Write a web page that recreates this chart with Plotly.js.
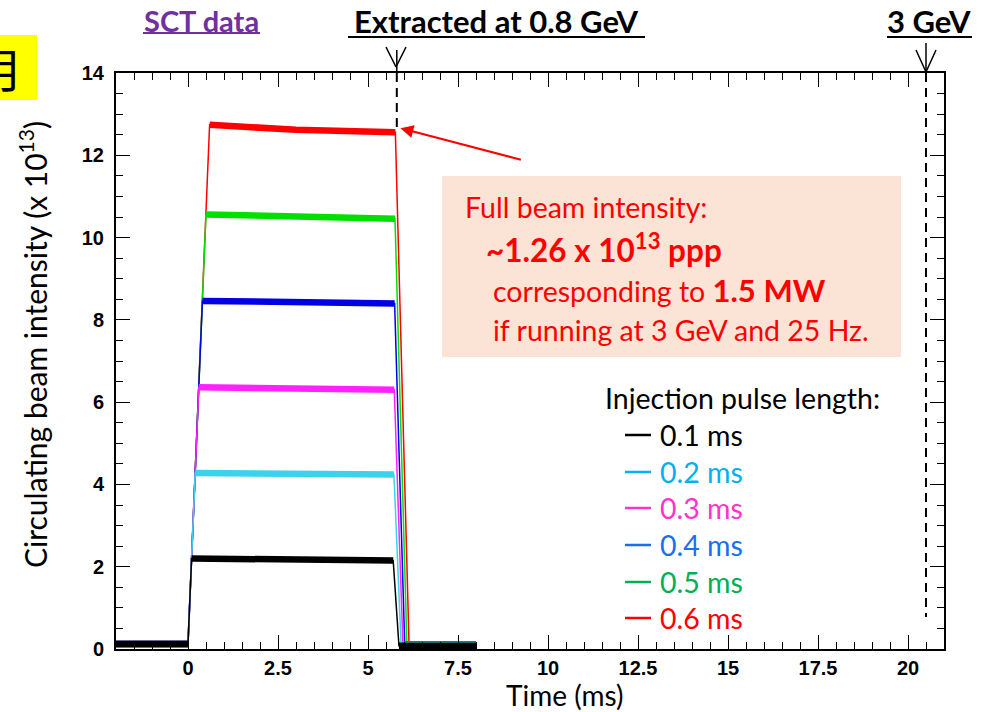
<!DOCTYPE html>
<html><head><meta charset="utf-8">
<script src="https://cdn.plot.ly/plotly-3.0.1.min.js"></script>
<style>html,body{margin:0;padding:0;background:#fff}</style>
</head><body><div id="chart" style="width:988px;height:712px"></div>
<script>
// ---- data ----
const pulseLabels   = ['0.1 ms', '0.2 ms', '0.3 ms', '0.4 ms', '0.5 ms', '0.6 ms'];
const injectionEnd  = [0.10, 0.20, 0.30, 0.40, 0.50, 0.60];      // ms, plateau reached
const plateauFirst  = [2.20, 4.28, 6.36, 8.46, 10.56, 12.74];    // x1e13
const plateauMid    = [2.18, 4.26, 6.33, 8.42, 10.50, 12.62];
const plateauLast   = [2.15, 4.24, 6.30, 8.40, 10.46, 12.56];
const extractStart  = [5.70, 5.72, 5.73, 5.74, 5.75, 5.76];      // ms
const extractEnd    = [5.86, 5.92, 5.97, 6.02, 6.08, 6.14];      // ms
const baselineBefore= [0.12, 0.12, 0.12, 0.12, 0.12, 0.12];
const baselineAfter = [0.08, 0.10, 0.10, 0.11, 0.11, 0.11];
const recordStart = -2.0, plateauMidTime = 3.0, recordEnd = 8.0;
const extractionTime = 5.8, threeGeVTime = 20.5;
const xTickVals = [0, 2.5, 5, 7.5, 10, 12.5, 15, 17.5, 20];
const xTickText = ['0', '2.5', '5', '7.5', '10', '12.5', '15', '17.5', '20'];

// ---- styles ----
const traceColors  = ['#000000', '#3cd2ec', '#ff22ff', '#0000e6', '#00e000', '#ff0000'];
const legendColors = ['#000000', '#00b0f0', '#ff33cc', '#1a6ff0', '#00b050', '#ff0000'];
const TXT = 'Lato, "Open Sans", sans-serif';
const REG = 28.5;

// pixel -> paper helpers (plot area 116..944 x 73..649)
const L = 116, R = 944, T = 73, B = 649;
const px = x => (x - L) / (R - L);
const py = y => (B - y) / (B - T);

const traces = [];
for (let i = 5; i >= 0; i--) {
  const xs = [recordStart, 0, injectionEnd[i], plateauMidTime, extractStart[i], extractEnd[i], recordEnd];
  const ys = [baselineBefore[i], baselineBefore[i], plateauFirst[i], plateauMid[i], plateauLast[i], baselineAfter[i], baselineAfter[i]];
  traces.push({x: xs, y: ys, type: 'scatter', mode: 'lines', name: pulseLabels[i],
    line: {color: traceColors[i], width: 1.5}, showlegend: false, hoverinfo: 'skip'});
  const bx = [recordStart, 0, null, injectionEnd[i], plateauMidTime, extractStart[i], null, extractEnd[i], recordEnd];
  const by = [baselineBefore[i], baselineBefore[i], null, plateauFirst[i], plateauMid[i], plateauLast[i], null, baselineAfter[i], baselineAfter[i]];
  traces.push({x: bx, y: by, type: 'scatter', mode: 'lines', name: pulseLabels[i] + ' band',
    line: {color: traceColors[i], width: 6.5}, connectgaps: false, showlegend: false, hoverinfo: 'skip'});
}

const shapes = [];
const annotations = [];
const txt = (x, y, text, size, color, anchor, extra) => annotations.push(Object.assign({
  xref: 'paper', yref: 'paper', x: px(x), y: py(y), text: text, showarrow: false,
  font: {family: TXT, size: size, color: color}, xanchor: anchor, yanchor: 'middle'}, extra || {}));
const seg = (x0, y0, x1, y1, color, width) => shapes.push({type: 'line', xref: 'paper', yref: 'paper',
  x0: px(x0), x1: px(x1), y0: py(y0), y1: py(y1), line: {color: color, width: width}});

// annotation box
shapes.push({type: 'rect', xref: 'paper', yref: 'paper', x0: px(442), x1: px(901), y0: py(357), y1: py(176),
  fillcolor: '#fbe4d6', line: {width: 0}, layer: 'below'});
// yellow box at left
shapes.push({type: 'rect', xref: 'paper', yref: 'paper', x0: px(-2), x1: px(37), y0: py(100), y1: py(35),
  fillcolor: '#ffff00', line: {width: 0}});
// dashed markers
shapes.push({type: 'line', xref: 'x', yref: 'paper', x0: extractionTime, x1: extractionTime, y0: py(73), y1: py(127),
  line: {color: '#000', width: 2, dash: '9px,6px'}});
shapes.push({type: 'line', xref: 'x', yref: 'paper', x0: threeGeVTime, x1: threeGeVTime, y0: py(73), y1: py(617),
  line: {color: '#000', width: 2, dash: '9px,6px'}});
// V markers + stems
shapes.push({type: 'line', xref: 'x', yref: 'paper', x0: extractionTime, x1: extractionTime, y0: py(50), y1: py(73), line: {color: '#000', width: 1.5}});
seg(386, 47, 396, 67, '#000', 1.5); seg(406, 47, 396, 67, '#000', 1.5);
shapes.push({type: 'line', xref: 'x', yref: 'paper', x0: threeGeVTime, x1: threeGeVTime, y0: py(43), y1: py(73), line: {color: '#000', width: 1.5}});
seg(916, 50, 926, 72, '#000', 1.5); seg(936, 50, 926, 72, '#000', 1.5);

// top labels with underline
txt(201, 20, '<b>SCT data</b>', 29, '#7030a0', 'center');
seg(143, 33, 260, 33, '#7030a0', 2);
txt(496, 21, '<b>Extracted at 0.8 GeV</b>', 31, '#000', 'center');
seg(348, 37, 645, 37, '#000', 2);
txt(929, 21, '<b>3 GeV</b>', 31, '#000', 'center');
seg(887, 37, 972, 37, '#000', 2);

// yellow box glyph (cut at the page edge, as in the reference)
annotations.push({xref: 'paper', yref: 'paper', x: px(25), y: py(67), text: '月', showarrow: false,
  font: {family: '"Noto Sans CJK SC"', size: 46, color: '#000'}, xanchor: 'right', yanchor: 'middle'});

// info box text
txt(463, 207, 'Full beam intensity:', REG, '#ff0000', 'left');
txt(484, 248, '<b>~1.26 x 10<sup>13</sup> ppp</b>', 31.5, '#ff0000', 'left');
txt(491, 290, 'corresponding to <b><span style="font-size:31px">1.5 MW</span></b>', REG, '#ff0000', 'left');
txt(491, 330, 'if running at 3 GeV and 25 Hz.', REG, '#ff0000', 'left');

// red arrow
annotations.push({xref: 'x', yref: 'y', x: 5.9, y: 12.66, ax: 122, ay: 32, text: '', showarrow: true,
  arrowhead: 2, arrowsize: 1.3, arrowwidth: 2, arrowcolor: '#ff0000'});

// legend (manual)
txt(603, 398, 'Injection pulse length:', REG, '#000', 'left');
const legendY = [435, 472, 508, 545, 582, 618];
for (let i = 0; i < 6; i++) {
  seg(625, legendY[i], 651, legendY[i], legendColors[i], 2.5);
  txt(658, legendY[i], pulseLabels[i], REG, legendColors[i], 'left');
}

// axis titles
txt(564, 694.5, 'Time (ms)', 28, '#000', 'center');
txt(33, 345, 'Circulating beam intensity (x 10<sup>13</sup>)', 30, '#000', 'center', {textangle: -90});

const tickFont = {family: '"Liberation Sans", Arial, sans-serif', size: 20, weight: 700, color: '#000'};
const layout = {
  width: 988, height: 712,
  margin: {l: L, r: 988 - R, t: T, b: 712 - B, pad: 0},
  paper_bgcolor: '#fff', plot_bgcolor: '#fff',
  showlegend: false,
  xaxis: {range: [-2, 21], tickmode: 'array', tickvals: xTickVals, ticktext: xTickText,
    ticks: 'inside', ticklen: 14, tickwidth: 1, tickcolor: '#000',
    showline: true, linewidth: 2, linecolor: '#000', mirror: 'allticks',
    showgrid: false, zeroline: false, tickfont: tickFont, ticklabelstandoff: 0,
    minor: {tickmode: 'linear', tick0: 0, dtick: 0.5, ticks: 'inside', ticklen: 7, tickwidth: 1, tickcolor: '#000', showgrid: false}},
  yaxis: {range: [0, 14], tick0: 0, dtick: 2,
    ticks: 'inside', ticklen: 14, tickwidth: 1, tickcolor: '#000',
    showline: true, linewidth: 2, linecolor: '#000', mirror: 'allticks',
    showgrid: false, zeroline: false, tickfont: tickFont, ticklabelstandoff: 6,
    minor: {tick0: 0, dtick: 0.5, ticks: 'inside', ticklen: 7, tickwidth: 1, tickcolor: '#000', showgrid: false}},
  shapes: shapes,
  annotations: annotations
};
Plotly.newPlot('chart', traces, layout, {staticPlot: true, displayModeBar: false});
</script></body></html>
